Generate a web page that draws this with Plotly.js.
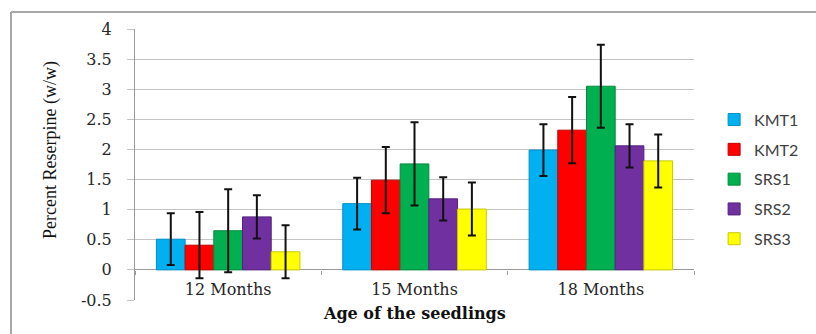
<!DOCTYPE html>
<html>
<head>
<meta charset="utf-8">
<script src="https://cdn.plot.ly/plotly-3.0.1.min.js"></script>
<style>html,body{margin:0;padding:0;background:#fff;}#chart{width:816px;height:334px;}</style>
</head>
<body>
<div id="chart"></div>
<script>
const categories = ["12 Months", "15 Months", "18 Months"];
const seriesNames = ["KMT1", "KMT2", "SRS1", "SRS2", "SRS3"];
const KMT1 = [0.51, 1.10, 1.99];
const KMT2 = [0.41, 1.49, 2.32];
const SRS1 = [0.65, 1.76, 3.05];
const SRS2 = [0.88, 1.18, 2.06];
const SRS3 = [0.30, 1.01, 1.81];
const KMT1_err = [0.43, 0.43, 0.43];
const KMT2_err = [0.55, 0.55, 0.55];
const SRS1_err = [0.69, 0.69, 0.69];
const SRS2_err = [0.36, 0.36, 0.36];
const SRS3_err = [0.44, 0.44, 0.44];
const yTickVals = [-0.5, 0, 0.5, 1, 1.5, 2, 2.5, 3, 3.5, 4];
const yTickText = ["-0.5", "0", "0.5", "1", "1.5", "2", "2.5", "3", "3.5", "4"];

const values = [KMT1, KMT2, SRS1, SRS2, SRS3];
const errors = [KMT1_err, KMT2_err, SRS1_err, SRS2_err, SRS3_err];
const colors = ["#00b0f0", "#ff0000", "#00b050", "#7030a0", "#ffff00"];
const edges = ["#0090c8", "#c00000", "#008a3e", "#55207f", "#c8c800"];

const traces = seriesNames.map((name, i) => ({
  type: "bar",
  name: name,
  x: categories,
  y: values[i],
  legendgroup: name,
  marker: { color: colors[i], line: { color: edges[i], width: 1 } },
  error_y: { type: "data", array: errors[i], visible: true, color: "#111", thickness: 2, width: 4 }
}));

const serif = "Liberation Serif, Times New Roman, serif";
const layout = {
  width: 816, height: 334,
  margin: { l: 135, r: 122, t: 29, b: 34 },
  paper_bgcolor: "#fff", plot_bgcolor: "#fff",
  barmode: "group", bargap: 0.23, bargroupgap: 0,
  showlegend: true,
  legend: {
    x: 1.036, xanchor: "left", y: 0.446, yanchor: "middle",
    font: { family: "Lato, Noto Sans, sans-serif", size: 16, color: "#404040" },
    traceorder: "grouped", tracegroupgap: 6, bgcolor: "rgba(0,0,0,0)"
  },
  xaxis: {
    type: "category", anchor: "free", position: 0.5 / 4.5,
    tickson: "boundaries", ticks: "outside", ticklen: 4, tickcolor: "#999",
    showline: false, showgrid: false, zeroline: false,
    tickfont: { family: "DejaVu Serif, serif", size: 16, color: "#262626" },
    ticklabelstandoff: 8
  },
  yaxis: {
    range: [-0.5, 4], tickvals: yTickVals, ticktext: yTickText,
    showgrid: true, gridcolor: "#c4c4c4", gridwidth: 1,
    zeroline: true, zerolinecolor: "#999", zerolinewidth: 1,
    showline: true, linecolor: "#999", linewidth: 1,
    ticks: "outside", ticklen: 7, tickcolor: "#c4c4c4",
    ticklabelstandoff: 12,
    tickfont: { family: "DejaVu Serif, serif", size: 16, color: "#262626" }
  },
  annotations: [
    { text: "Percent Reserpine (w/w)", textangle: -90, xref: "paper", yref: "paper",
      x: (50 - 135) / 559, y: (300 - 150) / 271, xanchor: "center", yanchor: "middle", showarrow: false,
      font: { family: serif, size: 18, color: "#111" } },
    { text: "<b>Age of the seedlings</b>", xref: "paper", yref: "paper",
      x: (414 - 135) / 559, y: (300 - 313) / 271, xanchor: "center", yanchor: "middle", showarrow: false,
      font: { family: "DejaVu Serif, serif", size: 16, color: "#111" } }
  ],
  shapes: [
    { type: "line", xref: "paper", yref: "paper", x0: (11 - 135) / 559, x1: (830 - 135) / 559,
      y0: (300 - 12) / 271, y1: (300 - 12) / 271, line: { color: "#a8a8a8", width: 2 } },
    { type: "line", xref: "paper", yref: "paper", x0: (11 - 135) / 559, x1: (11 - 135) / 559,
      y0: (300 - 12) / 271, y1: (300 - 345) / 271, line: { color: "#a8a8a8", width: 2 } }
  ]
};

Plotly.newPlot("chart", traces, layout, { displayModeBar: false, staticPlot: true });
</script>
</body>
</html>
